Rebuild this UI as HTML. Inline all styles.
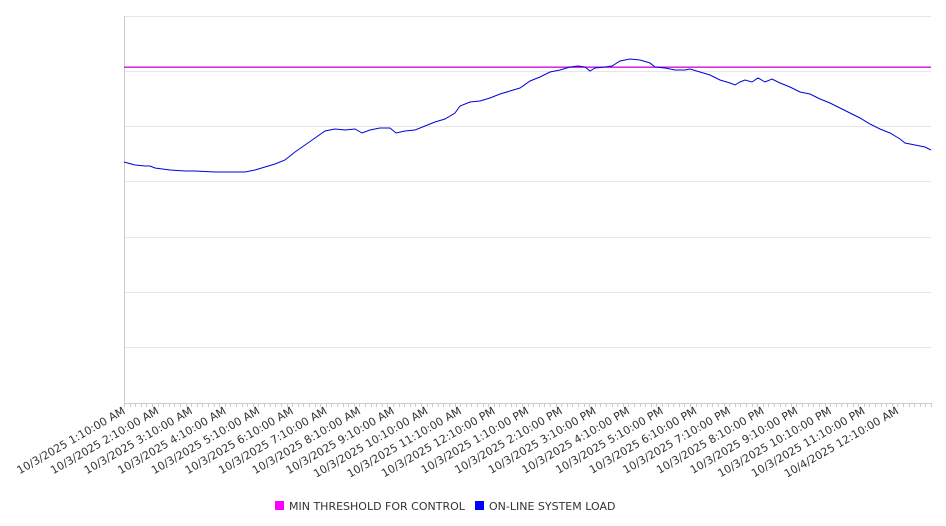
<!DOCTYPE html>
<html><head><meta charset="utf-8"><style>
body{margin:0;background:#fff;}
svg{display:block;font-family:"DejaVu Sans","Liberation Sans",sans-serif;}
</style></head><body>
<svg width="946" height="526" viewBox="0 0 946 526">
<g stroke="#e6e6e6" stroke-width="1">
<line x1="124" y1="16.5" x2="931" y2="16.5"/>
<line x1="124" y1="71.5" x2="931" y2="71.5"/>
<line x1="124" y1="126.5" x2="931" y2="126.5"/>
<line x1="124" y1="181.5" x2="931" y2="181.5"/>
<line x1="124" y1="237.5" x2="931" y2="237.5"/>
<line x1="124" y1="292.5" x2="931" y2="292.5"/>
<line x1="124" y1="347.5" x2="931" y2="347.5"/>
</g>
<line x1="124.5" y1="16" x2="124.5" y2="403" stroke="#ccc"/>
<line x1="124" y1="403.5" x2="931" y2="403.5" stroke="#ccc"/>
<g id="ticks" stroke="#ccc"></g>
<rect x="124" y="66.5" width="807" height="1.3" fill="#d000d0"/>
<polyline fill="none" stroke="#0000dd" stroke-width="1" points="124,162 135,165 145,166 150,166 155,168 170,170 185,171 195,171 215,172 230,172 245,172 255,170 265,167 275,164 285,160 295,152 305,145 315,138 325,131 335,129 345,130 355,129 362,133 370,130 380,128 390,128 396,133 405,131 415,130 425,126 435,122 445,119 455,113 460,106 470,102 480,101 490,98 500,94 510,91 520,88 530,81 540,77 550,72 560,70 570,67 578,66 585,67 590,71 595,68 605,67 612,66 620,61 630,59 640,60 650,63 655,67 665,68 675,70 685,70 690,69 700,72 710,75 720,80 730,83 735,85 740,82 745,80 752,82 758,78 765,82 772,79 780,83 790,87 800,92 810,94 820,99 830,103 840,108 850,113 860,118 870,124 880,129 890,133 900,139 905,143 915,145 925,147 931,150"/>
<g id="labels" font-size="11" fill="#333" text-anchor="end"></g>
<rect x="275" y="501" width="9" height="9" fill="#ff00ff"/>
<text x="289" y="510" font-size="11" fill="#333">MIN THRESHOLD FOR CONTROL</text>
<rect x="475" y="501" width="9" height="9" fill="#0000ff"/>
<text x="489" y="510" font-size="11" fill="#333">ON-LINE SYSTEM LOAD</text>
<script>
var ns="http://www.w3.org/2000/svg";
var t=document.getElementById("ticks");
for(var x=124;x<=931;x+=807/144){var l=document.createElementNS(ns,"line");l.setAttribute("x1",Math.round(x)+.5);l.setAttribute("x2",Math.round(x)+.5);l.setAttribute("y1",403);l.setAttribute("y2",407);t.appendChild(l);}
var g=document.getElementById("labels");
var names=["1:10:00 AM","2:10:00 AM","3:10:00 AM","4:10:00 AM","5:10:00 AM","6:10:00 AM","7:10:00 AM","8:10:00 AM","9:10:00 AM","10:10:00 AM","11:10:00 AM","12:10:00 PM","1:10:00 PM","2:10:00 PM","3:10:00 PM","4:10:00 PM","5:10:00 PM","6:10:00 PM","7:10:00 PM","8:10:00 PM","9:10:00 PM","10:10:00 PM","11:10:00 PM","12:10:00 AM"];
for(var i=0;i<24;i++){var x=124+i*807/24+2,y=413;var e=document.createElementNS(ns,"text");e.setAttribute("x",x);e.setAttribute("y",y);e.setAttribute("transform","rotate(-30 "+x+" "+y+")");e.textContent=(i==23?"10/4/2025 ":"10/3/2025 ")+names[i];g.appendChild(e);}
</script>
</svg>
</body></html>
